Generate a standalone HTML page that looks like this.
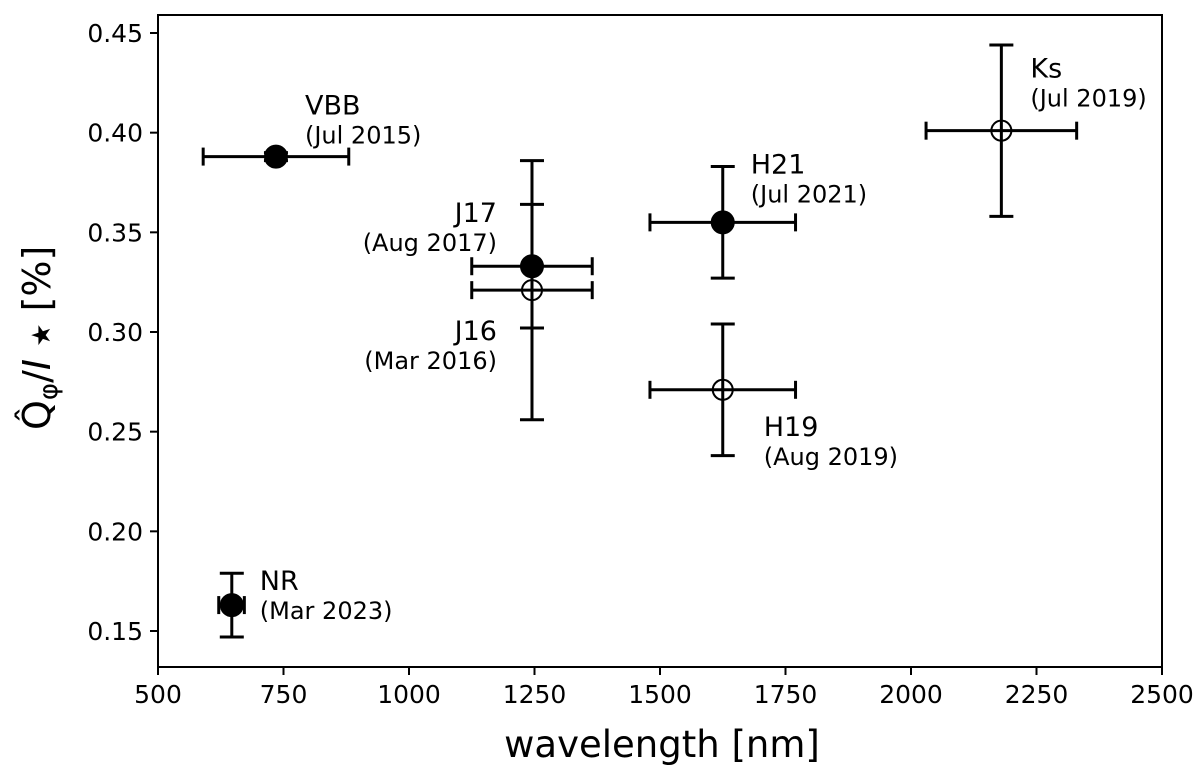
<!DOCTYPE html>
<html><head><meta charset="utf-8"><style>
html,body{margin:0;padding:0;background:#fff;}
svg{display:block;font-family:"DejaVu Sans","Liberation Sans",sans-serif;}
</style></head><body>
<svg id="chart" width="1200" height="766" viewBox="0 0 1200 766">
<rect x="158" y="15" width="1004" height="652" fill="none" stroke="#000" stroke-width="2"/>
<g id="ticks"></g>
<g id="marks"></g>
<text x="662" y="757" font-size="37" text-anchor="middle">wavelength [nm]</text>
<text transform="translate(50,430) rotate(-90)" font-size="38">Q̂<tspan font-size="26" dy="7">φ</tspan><tspan dy="-7">/</tspan><tspan font-style="italic">I</tspan> <tspan font-size="26">★</tspan> [%]</text>
</svg>
<script>
const xTicks=[500,750,1000,1250,1500,1750,2000,2250,2500];
const yTicks=[0.15,0.20,0.25,0.30,0.35,0.40,0.45];
const names=["VBB","J17","J16","H21","H19","Ks","NR"];
const dates=["(Jul 2015)","(Aug 2017)","(Mar 2016)","(Jul 2021)","(Aug 2019)","(Jul 2019)","(Mar 2023)"];
const xs=[735,1245,1245,1625,1625,2180,647];
const ys=[0.388,0.333,0.321,0.355,0.271,0.401,0.163];
const xLo=[590,1125,1125,1480,1480,2030,621];
const xHi=[880,1365,1365,1770,1770,2330,672];
const yLo=[0.386,0.302,0.256,0.327,0.238,0.358,0.147];
const yHi=[0.390,0.364,0.386,0.383,0.304,0.444,0.179];
const filled=[true,true,false,true,false,false,true];
const lblDx=[29,-35,-35,28,41,29,28];
const lblDy=[-42,-44,50,-49,46,-53,-15];
const lblAnchor=["start","end","end","start","start","start","start"];

const X=v=>158+(v-500)*(1004/2000);
const Y=v=>631-(v-0.15)*(598/0.30);
const NS="http://www.w3.org/2000/svg";
function mk(tag,attrs,parent){const e=document.createElementNS(NS,tag);for(const k in attrs)e.setAttribute(k,attrs[k]);parent.appendChild(e);return e;}
const tg=document.getElementById('ticks'), mg=document.getElementById('marks');
xTicks.forEach(t=>{
  const l=mk('line',{x1:X(t),x2:X(t),y1:667,y2:675,stroke:'#000','stroke-width':2},tg);
  
  
  const tx=mk('text',{x:X(t),y:703,'font-size':25,'text-anchor':'middle'},tg);tx.textContent=t;
  
  
});
yTicks.forEach(t=>{
  const l=mk('line',{x1:150,x2:158,y1:Y(t),y2:Y(t),stroke:'#000','stroke-width':2},tg);
  
  
  const tx=mk('text',{x:143,y:Y(t)+9,'font-size':25,'text-anchor':'end'},tg);tx.textContent=t.toFixed(2);
  
  
});
names.forEach((n,i)=>{
  const g=mk('g',{},mg);
  
  
  const cx=X(xs[i]),cy=Y(ys[i]);
  const s={stroke:'#000','stroke-width':3};
  mk('line',Object.assign({x1:X(xLo[i]),x2:X(xHi[i]),y1:cy,y2:cy},s),g);
  mk('line',Object.assign({x1:X(xLo[i]),x2:X(xLo[i]),y1:cy-9,y2:cy+9},s),g);
  mk('line',Object.assign({x1:X(xHi[i]),x2:X(xHi[i]),y1:cy-9,y2:cy+9},s),g);
  mk('line',Object.assign({x1:cx,x2:cx,y1:Y(yLo[i]),y2:Y(yHi[i])},s),g);
  mk('line',Object.assign({x1:cx-12,x2:cx+12,y1:Y(yLo[i]),y2:Y(yLo[i])},s),g);
  mk('line',Object.assign({x1:cx-12,x2:cx+12,y1:Y(yHi[i]),y2:Y(yHi[i])},s),g);
  mk('circle',{cx:cx,cy:cy,r:filled[i]?11:10,fill:filled[i]?'#000':'none',stroke:'#000','stroke-width':2},g);
  const a=lblAnchor[i];
  const t1=mk('text',{x:cx+lblDx[i],y:cy+lblDy[i],'font-size':27,'text-anchor':a},g);t1.textContent=n;
  
  
  const t2=mk('text',{x:cx+lblDx[i],y:cy+lblDy[i]+29,'font-size':24,'text-anchor':a},g);t2.textContent=dates[i];
  
  
});
</script>
</body></html>
